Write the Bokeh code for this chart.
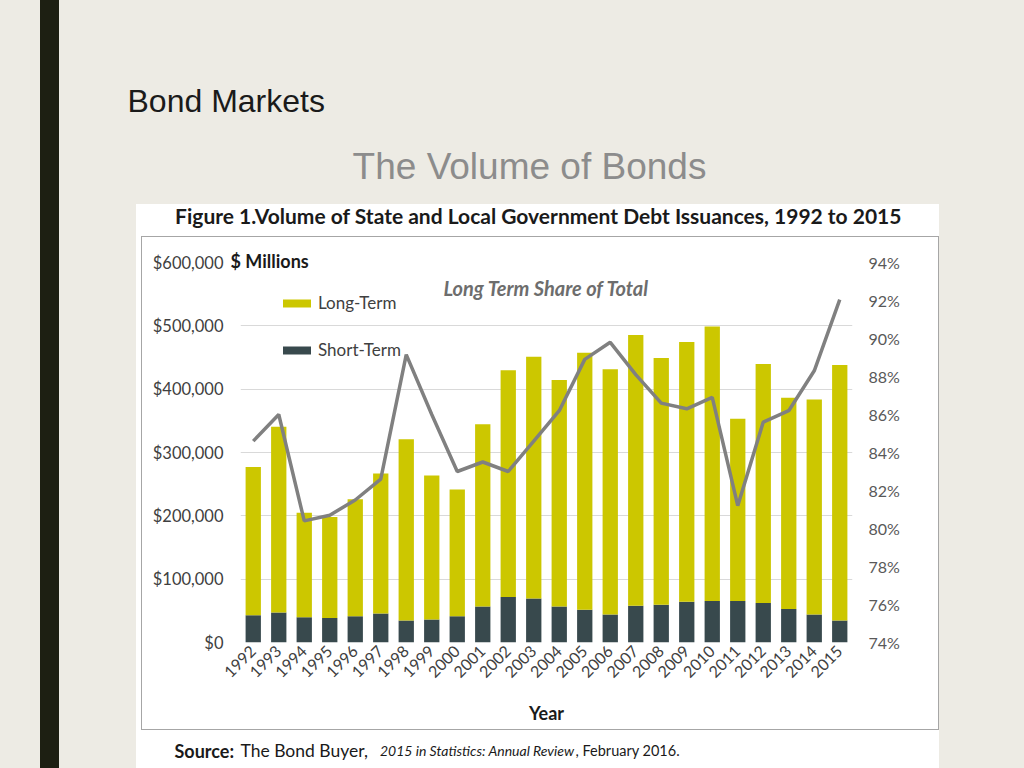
import math
from bokeh.plotting import figure
from bokeh.models import (FactorRange, Range1d, LinearAxis, Label,
                          Legend, LegendItem, ColumnDataSource, NumeralTickFormatter,
                          FixedTicker, PrintfTickFormatter)
from bokeh.embed import file_html
from bokeh.resources import INLINE

# ---------------- data ----------------
years = [str(y) for y in range(1992, 2016)]
short_term = [43000, 47500, 40000, 38500, 41600, 45900, 34800, 36400, 41600, 57000, 72000, 69600,
              57000, 51700, 44300, 58000, 59600, 64300, 65400, 65400, 62200, 52700, 44300, 34800]
long_term = [234000, 293100, 165000, 159500, 184400, 221100, 286200, 227200, 199900, 287800, 358000, 381400,
             357400, 405900, 387000, 427600, 389600, 410200, 433400, 287800, 377500, 333800, 339500, 403200]
lt_share = [84.6, 86.0, 80.4, 80.7, 81.5, 82.6, 89.15, 86.0, 83.0, 83.5, 83.0, 84.6,
            86.2, 88.9, 89.8, 88.1, 86.6, 86.3, 86.9, 81.2, 85.6, 86.2, 88.3, 92.05]
left_ticks = [0, 100000, 200000, 300000, 400000, 500000, 600000]
right_ticks = [74, 76, 78, 80, 82, 84, 86, 88, 90, 92, 94]

# ---------------- style ----------------
SLIDE = "#EDEBE4"
DARK_BAR = "#1D1F12"
YELLOW = "#CCC700"
SLATE = "#38494D"
LINE = "#808080"
BORDER = "#A6A6A6"
FONT = "Lato"

W, H = 1024, 768

src = ColumnDataSource(dict(year=years, short=short_term, long=long_term, share=lt_share))

p = figure(width=W, height=H, output_backend="svg", toolbar_location=None,
           x_range=FactorRange(factors=years, range_padding=0),
           y_range=Range1d(0, 600000),
           min_border_left=240, min_border_right=172, min_border_top=262, min_border_bottom=126)
p.extra_y_ranges = {"pct": Range1d(74, 94)}
p.border_fill_alpha = 0
p.background_fill_color = "white"
p.outline_line_color = None

def layer(color, x, y, w, h):
    return f"linear-gradient({color},{color}) {x}px {y}px / {w}px {h}px no-repeat"

p.styles = {
    "background": ", ".join([
        layer(BORDER, 141, 236, 798, 1),
        layer(BORDER, 141, 729, 798, 1),
        layer(BORDER, 141, 236, 1, 494),
        layer(BORDER, 938, 236, 1, 494),
        layer("#FFFFFF", 136, 204, 803, 564),
        layer(DARK_BAR, 40, 0, 19, 768),
    ]) + ", " + SLIDE
}

# bars
rs = p.vbar_stack(["short", "long"], x="year", width=0.6, color=[SLATE, YELLOW], source=src,
                  line_color=None)
ln = p.line(x="year", y="share", source=src, y_range_name="pct", line_color=LINE, line_width=3.5)

# grid / axes
p.xgrid.grid_line_color = None
p.ygrid.grid_line_color = "#D9D9D9"
p.ygrid.grid_line_width = 1
p.ygrid.ticker = FixedTicker(ticks=left_ticks)

ya = p.yaxis[0]
ya.ticker = FixedTicker(ticks=left_ticks)
ya.formatter = NumeralTickFormatter(format="$0,0")
ya.axis_line_color = None
ya.major_tick_line_color = None
ya.minor_tick_line_color = None
ya.major_tick_out = 0
ya.major_label_standoff = 17
ya.major_label_text_font = FONT
ya.major_label_text_font_size = "16.5px"
ya.major_label_text_color = "#404040"

ra = LinearAxis(y_range_name="pct", ticker=FixedTicker(ticks=right_ticks),
                formatter=PrintfTickFormatter(format="%d%%"))
ra.axis_line_color = None
ra.major_tick_line_color = None
ra.minor_tick_line_color = None
ra.major_tick_out = 0
ra.major_label_standoff = 16
ra.major_label_text_font = FONT
ra.major_label_text_font_size = "16px"
ra.major_label_text_color = "#595959"
p.add_layout(ra, "right")

xa = p.xaxis[0]
xa.axis_line_color = None
xa.major_tick_line_color = None
xa.major_tick_out = 0
xa.major_label_orientation = math.pi / 4
xa.major_label_standoff = 6
xa.major_label_text_font = FONT
xa.major_label_text_font_size = "16px"
xa.major_label_text_color = "#404040"
xa.axis_label = "Year"
xa.axis_label_text_font = FONT
xa.axis_label_text_font_style = "bold"
xa.axis_label_text_font_size = "18px"
xa.axis_label_text_color = "#1a1a1a"
xa.axis_label_standoff = 16

# legend
legend = Legend(items=[LegendItem(label="Long-Term", renderers=[rs[1]]),
                       LegendItem(label="Short-Term", renderers=[rs[0]])],
                location=(39, 282), orientation="vertical",
                glyph_width=35, glyph_height=10, label_standoff=4, spacing=26,
                padding=0, margin=0, label_height=20,
                label_text_font=FONT, label_text_font_size="17px", label_text_color="#404040",
                background_fill_alpha=0, border_line_alpha=0)
p.add_layout(legend)

# texts
def lab(text, x, y, size, color="#1a1a1a", style="normal", font=FONT, align="left", bg=None,
        pad=0, place=None):
    kw = {}
    if bg is not None:
        kw = dict(background_fill_color=bg, background_fill_alpha=1, padding=pad)
    lbl = Label(x=x, y=y, x_units="canvas", y_units="canvas", text=text,
                text_font=font, text_font_size=size, text_color=color, text_font_style=style,
                text_align=align, text_baseline="middle", **kw)
    if place is None:
        p.add_layout(lbl)
    else:
        p.add_layout(lbl, place)

lab("Bond Markets", 127, 100, "32px", color="#1a1a1a", font="Liberation Sans", place="above")
lab("The Volume of Bonds", 529, 166, "37px", color="#8C8C8C", font="Liberation Sans", align="center",
    place="above")
lab("Figure 1.Volume of State and Local Government Debt Issuances, 1992 to 2015", 538, 215, "21px",
    style="bold", align="center", place="above")
lab("$ Millions", 226, 260, "18px", style="bold", bg="white", pad=4, place="left")
lab("Long Term Share of Total", 443, 287, "20px", color="#6D6D6D", style="bold italic")
lab("Source:", 174, 750, "18px", style="bold", place="above")
lab("The Bond Buyer,", 240, 750, "17.5px", place="above")
lab("2015 in Statistics: Annual Review", 574, 750, "14px", style="italic", align="right", place="above")
lab(", February 2016.", 575, 750, "14.5px", place="above")

open("out.html", "w").write(file_html(p, INLINE))
